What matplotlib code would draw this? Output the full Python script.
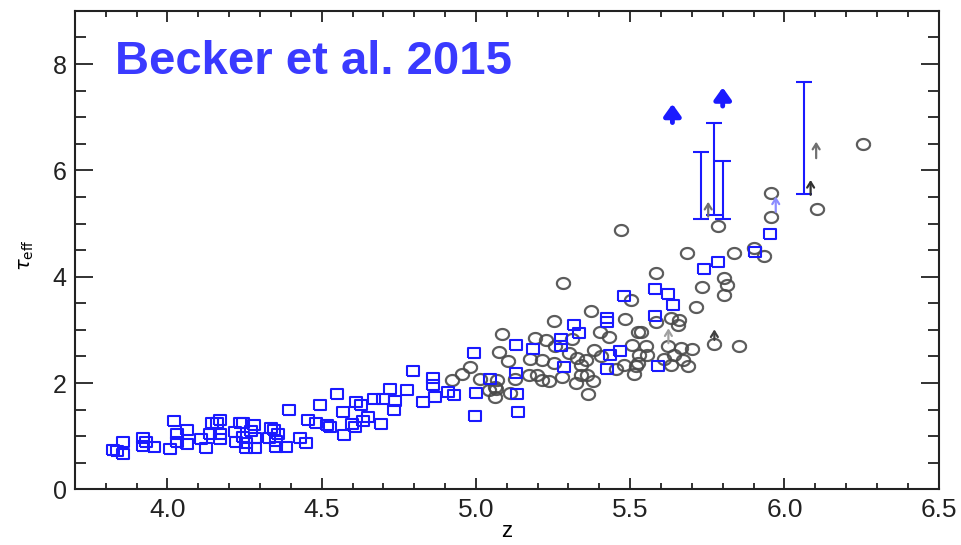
import matplotlib
matplotlib.use("Agg")
import matplotlib.pyplot as plt
import numpy as np

# blue squares (z, tau_eff)
sq_z = [3.824, 3.855, 3.855, 3.835, 3.92, 3.92, 3.93, 3.955, 4.02, 4.03,
        4.063, 4.03, 4.063, 4.009, 4.11, 4.126, 4.137, 4.145, 4.17, 4.16,
        4.17, 4.17, 4.218, 4.234, 4.245, 4.28, 4.272, 4.223, 4.245, 4.256,
        4.254, 4.283, 4.283, 4.337, 4.345, 4.359, 4.33, 4.353, 4.351, 4.384,
        4.393, 4.43, 4.448, 4.456, 4.48, 4.494, 4.516, 4.527, 4.548, 4.57,
        4.572, 4.597, 4.611, 4.626, 4.608, 4.635, 4.651, 4.67, 4.698, 4.722,
        4.736, 4.735, 4.692, 4.776, 4.797, 4.827, 4.862, 4.86, 4.866, 4.909,
        4.93, 4.993, 5.001, 4.998, 5.045, 5.131, 5.131, 5.133, 5.135, 5.48,
        5.317, 5.334, 5.424, 5.424, 5.276, 5.276, 5.185, 5.285, 5.467, 5.434,
        5.426, 5.952, 5.906, 5.784, 5.74, 5.58, 5.624, 5.639, 5.58, 5.589]
sq_tau = [0.74, 0.89, 0.67, 0.73, 0.97, 0.81, 0.89, 0.79, 1.29, 1.05,
          1.11, 0.89, 0.86, 0.76, 0.94, 0.77, 1.05, 1.24, 1.31, 1.24,
          1.05, 0.94, 1.08, 1.24, 1.24, 1.21, 1.10, 0.90, 0.99, 0.87,
          0.77, 0.96, 0.77, 1.15, 1.11, 1.05, 0.96, 0.91, 0.80, 0.79,
          1.50, 0.97, 0.87, 1.31, 1.25, 1.58, 1.21, 1.17, 1.79, 1.46,
          1.03, 1.23, 1.65, 1.58, 1.18, 1.29, 1.36, 1.70, 1.70, 1.89,
          1.66, 1.50, 1.23, 1.87, 2.23, 1.65, 2.09, 1.96, 1.74, 1.83,
          1.77, 2.57, 1.81, 1.38, 2.07, 2.71, 2.19, 1.79, 1.46, 3.64,
          3.09, 2.95, 3.23, 3.14, 2.82, 2.69, 2.64, 2.30, 2.60, 2.53,
          2.27, 4.80, 4.47, 4.27, 4.14, 3.77, 3.67, 3.46, 3.26, 2.32]

# black circles (z, tau_eff)
ci_z = [5.083, 5.074, 5.103, 4.98, 4.955, 4.923, 5.012, 5.068, 5.041, 5.066,
        5.061, 5.11, 5.128, 5.283, 5.372, 5.253, 5.484, 5.504, 5.193, 5.226,
        5.402, 5.432, 5.524, 5.312, 5.175, 5.214, 5.255, 5.253, 5.301, 5.329,
        5.356, 5.383, 5.404, 5.339, 5.453, 5.48, 5.507, 5.524, 5.513, 5.171,
        5.198, 5.214, 5.236, 5.28, 5.339, 5.361, 5.38, 5.323, 5.363, 5.063,
        5.684, 5.836, 5.901, 5.933, 5.583, 5.803, 5.814, 5.803, 5.733, 5.713,
        5.534, 5.583, 5.632, 5.659, 5.654, 5.773, 5.854, 5.624, 5.664, 5.702,
        5.551, 5.529, 5.556, 5.643, 5.67, 5.61, 5.686, 5.518, 5.632, 6.255,
        5.955, 5.955, 6.105, 5.784, 5.47]
ci_tau = [2.93, 2.59, 2.41, 2.30, 2.18, 2.06, 2.07, 2.06, 1.87, 1.88,
          1.74, 1.81, 2.07, 3.89, 3.35, 3.16, 3.20, 3.57, 2.85, 2.81,
          2.96, 2.86, 2.96, 2.82, 2.45, 2.43, 2.69, 2.37, 2.56, 2.47,
          2.43, 2.62, 2.51, 2.34, 2.27, 2.34, 2.71, 2.37, 2.18, 2.15,
          2.15, 2.06, 2.03, 2.11, 2.16, 2.16, 2.03, 2.00, 1.79, 1.93,
          4.45, 4.45, 4.54, 4.39, 4.07, 3.98, 3.85, 3.66, 3.80, 3.43,
          2.96, 3.14, 3.22, 3.19, 3.09, 2.74, 2.69, 2.69, 2.66, 2.64,
          2.69, 2.53, 2.53, 2.53, 2.43, 2.45, 2.32, 2.32, 2.34, 6.50,
          5.58, 5.13, 5.28, 4.95, 4.88]

# blue ranges (z, low, high)
rng_z = [5.729, 5.771, 5.802, 6.065]
rng_lo = [5.09, 5.16, 5.09, 5.55]
rng_hi = [6.34, 6.89, 6.18, 7.67]

# lower limits drawn as arrows (z, base, top)
bold_z = [5.637, 5.80]
bold_lo = [6.90, 7.21]
bold_hi = [7.25, 7.56]

lim_z = [5.753, 6.103, 6.085, 5.773, 5.624, 5.972]
lim_lo = [5.13, 6.23, 5.54, 2.81, 2.75, 5.22]
lim_hi = [5.41, 6.54, 5.82, 3.01, 3.03, 5.51]
lim_col = ["#707070", "#707070", "#303030", "#404040", "#a0a0a0", "#8c8cff"]

box = [(-1.25, -1), (1.25, -1), (1.25, 1), (-1.25, 1), (-1.25, -1)]
t = np.linspace(0, 2 * np.pi, 40)
oval = list(zip(1.2 * np.cos(t), np.sin(t)))

fig = plt.figure(figsize=(9.61, 5.45), dpi=100)
ax = fig.add_axes([0.078, 0.102, 0.8987, 0.878])

ax.plot(ci_z, ci_tau, ls="none", marker=oval, ms=9.5, mfc="none",
        mec="#4a4a4a", mew=1.6, alpha=0.9)
ax.plot(sq_z, sq_tau, ls="none", marker=box, ms=8.5, mfc="none",
        mec="#1a1aff", mew=1.5)

for z, lo, hi in zip(rng_z, rng_lo, rng_hi):
    ax.errorbar([z], [(lo + hi) / 2], yerr=[[(hi - lo) / 2], [(hi - lo) / 2]],
                fmt="none", ecolor="#1a1aff", elinewidth=1.5, capsize=6, capthick=1.5)

for z, lo, hi in zip(bold_z, bold_lo, bold_hi):
    ax.annotate("", xy=(z, hi), xytext=(z, lo),
                arrowprops=dict(arrowstyle="-|>,head_length=0.7,head_width=0.5",
                                color="#1a1aff", lw=3.5, shrinkA=0, shrinkB=0))

for z, lo, hi, c in zip(lim_z, lim_lo, lim_hi, lim_col):
    ax.annotate("", xy=(z, hi), xytext=(z, lo),
                arrowprops=dict(arrowstyle="->,head_length=0.4,head_width=0.25",
                                color=c, lw=1.6, shrinkA=0, shrinkB=0))

ax.text(3.83, 8.04, "Becker et al. 2015", color="#3a3aff", fontsize=34,
        fontweight="bold", family="Liberation Sans", va="center", ha="left")

ax.set_xlim(3.7, 6.5)
ax.set_ylim(0, 9)
ax.set_xticks([4.0, 4.5, 5.0, 5.5, 6.0, 6.5])
ax.set_xticklabels(["4.0", "4.5", "5.0", "5.5", "6.0", "6.5"],
                   family="Liberation Sans", fontsize=19)
ax.set_xticks(np.arange(3.8, 6.45, 0.1), minor=True)
ax.set_yticks([0, 2, 4, 6, 8])
ax.set_yticklabels(["0", "2", "4", "6", "8"], family="Liberation Sans", fontsize=18)
ax.set_yticks(np.arange(0.5, 9, 0.5), minor=True)

ax.tick_params(axis="both", which="both", direction="in", top=True, right=True,
               colors="#222222", width=1.3)
ax.tick_params(axis="x", which="major", length=8, pad=6)
ax.tick_params(axis="x", which="minor", length=4.5)
ax.tick_params(axis="y", which="major", length=13, pad=6)
ax.tick_params(axis="y", which="minor", length=8)
for s in ax.spines.values():
    s.set_linewidth(1.5)
    s.set_color("#222222")

ax.set_xlabel("z", family="Liberation Sans", fontsize=16)
ax.xaxis.set_label_coords(0.5, -0.066)
ax.set_ylabel(r"$\tau_{\rm eff}$", fontsize=14)
ax.yaxis.set_label_coords(-0.045, 0.49)

fig.savefig("out.png", dpi=100)
